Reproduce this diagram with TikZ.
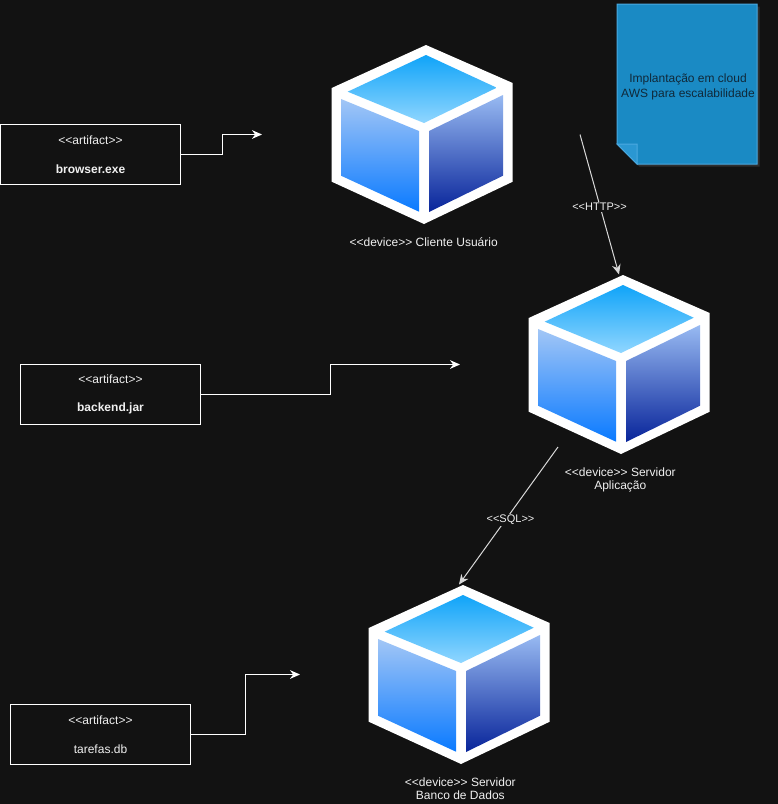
\documentclass[tikz,border=0pt]{standalone}
\usepackage{fontspec}
\setmainfont{Liberation Sans}
\usepackage{xcolor}
\definecolor{bgDark}{HTML}{121212}
\definecolor{noteBlue}{HTML}{1A8AC4}
\definecolor{noteEdge}{HTML}{4BA9E0}
\definecolor{noteFold}{HTML}{2A97D2}
\definecolor{noteText}{HTML}{10293A}
\definecolor{topHi}{HTML}{10A4F8}
\definecolor{topLo}{HTML}{90D6FF}
\definecolor{leftHi}{HTML}{A2C6F6}
\definecolor{leftLo}{HTML}{0A7AFF}
\definecolor{rightHi}{HTML}{98BAF2}
\definecolor{rightLo}{HTML}{08249A}
\usetikzlibrary{arrows.meta, positioning, shadows}

\begin{document}
\begin{tikzpicture}[
    x=0.75pt, y=-0.75pt,
    every node/.style={font=\fontsize{9}{10}\selectfont, text=white!94!black},
    device/.style={inner sep=0pt, outer sep=0pt, minimum width=238.5pt, minimum height=135pt},
    artifact/.style={
        rectangle, draw=white, line width=0.75pt, fill=bgDark, align=center,
        inner sep=0pt, minimum width=135pt, minimum height=45pt,
        execute at begin node=\rule{0pt}{11.5pt}
    },
    devlabel/.style={align=center, inner sep=0pt},
    arr/.style={-{Stealth[length=7.5pt, width=6.5pt]}, white, line width=0.75pt},
    link/.style={-{Stealth[length=7.5pt, width=6.5pt]}, white!85!black, line width=0.75pt},
    tag/.style={fill=bgDark, inner sep=1pt, pos=0.5, font=\fontsize{8.25}{10}\selectfont},
    devicecube/.pic={
        \fill[white] (4,-90) -- (90.7,-52) -- (90.7,46.7) -- (2,89)
            -- (-90.3,46.7) -- (-90.3,-47) -- cycle;
        \path[top color=topHi, bottom color=topLo]
            (4,-80) -- (74.7,-47.3) -- (2,-12) -- (-74.3,-43.3) -- cycle;
        \path[top color=leftHi, bottom color=leftLo]
            (-81,-36) -- (-3,-4) -- (-3,76.7) -- (-81,40.7) -- cycle;
        \path[top color=rightHi, bottom color=rightLo]
            (7,-4) -- (81,-40) -- (81,40.7) -- (7,77) -- cycle;
    }
]

%% ---- Canvas ----
\fill[bgDark] (0,0) rectangle (778,804);
\useasboundingbox (0,0) rectangle (778,804);

%% ---- Note ----
\draw[noteEdge, fill=noteBlue, line width=0.75pt, drop shadow={shadow xshift=2pt, shadow yshift=-2pt, fill=white, opacity=0.12}]
    (617,4) -- (757,4) -- (757,164) -- (637,164) -- (617,144) -- cycle;
\draw[noteEdge, fill=noteFold, line width=0.75pt] (617,144) -- (637,144) -- (637,164) -- cycle;
\node[align=center, inner sep=0pt, text=noteText, font=\fontsize{9}{11.25}\selectfont] (note) at (688,87)
    {Implantação em cloud\\AWS para escalabilidade};

%% ---- Devices ----
\node[device] (cliente)  at (421,134.5) {};
\node[device] (servidor) at (619,364.5) {};
\node[device] (banco)    at (459,674.5) {};
\pic at (422,135) {devicecube};
\pic at (619,365) {devicecube};
\pic at (459,675) {devicecube};

\node[devlabel, below=10pt of cliente.south, xshift=2pt] (clienteTxt) {<{}<device>{}> Cliente Usuário};
\node[devlabel, below=9.5pt of servidor.south, xshift=1pt] (servidorTxt) {<{}<device>{}> Servidor\\Aplicação};
\node[devlabel, below=9.5pt of banco.south, xshift=1pt] (bancoTxt) {<{}<device>{}> Servidor\\Banco de Dados};

%% ---- Artifacts ----
\node[artifact] (browser) at (90.5,154.5) {<{}<artifact>{}>\\[11.5pt]\textbf{browser.exe}};
\node[artifact] (backend) at (110.5,394.5) {<{}<artifact>{}>\\[11.5pt]\textbf{backend.jar}};
\node[artifact] (tarefas) at (100.5,734.5) {<{}<artifact>{}>\\[11.5pt]tarefas.db};

%% ---- Arrows ----
\draw[arr] (browser.east) -- ++(41,0) |- (cliente.west);
\draw[arr] (backend.east) -- ++(129.5,0) |- (servidor.west);
\draw[arr] (tarefas.east) -- ++(54.5,0) |- (banco.west);

%% ---- Links ----
\coordinate (sqlFrom) at (558,447);
\draw[link] (cliente.east) -- (servidor.north) node[tag, yshift=-2pt] (http) {<{}<HTTP>{}>};
\draw[link] (sqlFrom) -- (banco.north) node[tag, yshift=-3pt, xshift=1.5pt] (sql) {<{}<SQL>{}>};

\end{tikzpicture}
\end{document}
